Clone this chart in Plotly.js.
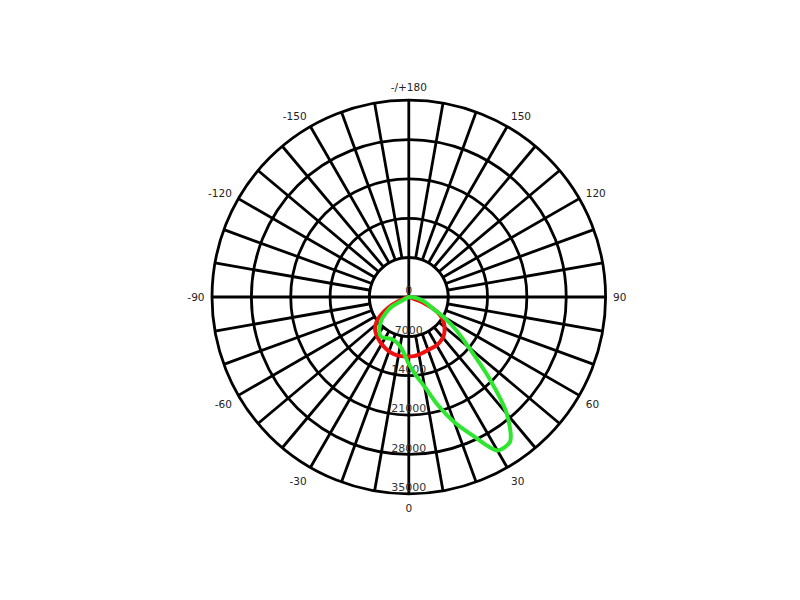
<!DOCTYPE html>
<html>
<head>
<meta charset="utf-8">
<script src="https://cdn.plot.ly/plotly-3.0.1.min.js"></script>
<style>
  html, body { margin: 0; padding: 0; background: #fff; }
  #chart { width: 800px; height: 600px; }
</style>
</head>
<body>
<div id="chart"></div>
<script>
// gamma angles (deg), 0 = straight down
const gamma = [-90, -85, -80, -75, -70, -65, -60, -55, -50, -45, -40, -35, -30, -25, -20, -15, -10, -5,
  0, 5, 10, 15, 20, 25, 30, 35, 40, 45, 50, 55, 60, 65, 70, 75, 80, 85, 90];

// C0-C180 plane (cd)
const planeC0 = [0, 0, 0, 0, 1200, 3300, 5000, 6600, 7700, 8450, 8900, 9300, 9650, 10000, 10300, 10500, 10580, 10600,
  10600, 10550, 10400, 10200, 10050, 9950, 9900, 9700, 9450, 8950, 8300, 7500, 6400, 4500, 1800, 0, 0, 0, 0];

// C90-C270 plane (cd)
const planeC90 = [0, 0, 0, 0, 0, 0, 3700, 5000, 6300, 7300, 8150, 8600, 8400, 8150, 8100, 8350, 8900, 10000,
  11900, 13900, 16200, 19900, 23700, 27300, 31500, 31400, 27100, 19900, 13900, 10300, 7200, 4500, 3500, 2600, 1700, 800, 0];

const angTickVals = [0, 10, 20, 30, 40, 50, 60, 70, 80, 90, 100, 110, 120, 130, 140, 150, 160, 170,
  180, 190, 200, 210, 220, 230, 240, 250, 260, 270, 280, 290, 300, 310, 320, 330, 340, 350];
const angTickText = ['0', '', '', '30', '', '', '60', '', '', '90', '', '', '120', '', '', '150', '', '',
  '-/+180', '', '', '-150', '', '', '-120', '', '', '-90', '', '', '-60', '', '', '-30', '', ''];

const radTickVals = [0, 7000, 14000, 21000, 28000, 35000];
const radTickText = ['0', '7000', '14000', '21000', '28000', '35000'];

const holeR = radTickVals[1];
const black = '#000';
const gridW = 2.8;

const traces = [
  // inner disc without spokes
  {
    type: 'scatterpolar', mode: 'lines',
    r: angTickVals.concat([360]).map(() => holeR),
    theta: angTickVals.concat([360]),
    fill: 'toself', fillcolor: '#fff',
    line: {color: black, width: gridW, shape: 'spline'},
    hoverinfo: 'skip'
  },
  {
    type: 'scatterpolar', mode: 'lines',
    r: [holeR, holeR], theta: [0, 180],
    line: {color: black, width: gridW}, hoverinfo: 'skip'
  },
  {
    type: 'scatterpolar', mode: 'lines',
    r: [holeR, holeR], theta: [90, 270],
    line: {color: black, width: gridW}, hoverinfo: 'skip'
  },
  // radial value labels down the 0 spoke
  {
    type: 'scatterpolar', mode: 'text',
    r: radTickVals, theta: radTickVals.map(() => 0),
    text: radTickText, textposition: 'top center',
    textfont: {family: 'DejaVu Sans, sans-serif', size: 11, color: '#333'},
    hoverinfo: 'skip'
  },
  {
    type: 'scatterpolar', mode: 'lines',
    r: planeC0, theta: gamma,
    line: {color: '#ee1111', width: 4, shape: 'spline', smoothing: 0.8},
    name: 'C0-C180'
  },
  {
    type: 'scatterpolar', mode: 'lines',
    r: planeC90, theta: gamma,
    line: {color: '#2ee62e', width: 4, shape: 'spline', smoothing: 0.8},
    name: 'C90-C270'
  }
];

const layout = {
  width: 800,
  height: 600,
  margin: {l: 0, r: 0, t: 0, b: 0},
  paper_bgcolor: '#fff',
  showlegend: false,
  font: {family: 'DejaVu Sans, sans-serif', size: 10.5, color: '#222'},
  polar: {
    domain: {x: [0.265, 0.757], y: [0.177, 0.833]},
    bgcolor: '#fff',
    angularaxis: {
      rotation: 270,
      direction: 'counterclockwise',
      tickmode: 'array',
      tickvals: angTickVals,
      ticktext: angTickText,
      ticks: 'outside',
      ticklen: 4,
      tickcolor: 'rgba(0,0,0,0)',
      showline: true,
      linecolor: black,
      linewidth: gridW,
      showgrid: true,
      gridcolor: black,
      gridwidth: gridW,
      tickfont: {size: 10.5, color: '#222'}
    },
    radialaxis: {
      range: [0, 35000],
      tickmode: 'array',
      tickvals: radTickVals,
      showticklabels: false,
      ticks: '',
      showline: false,
      showgrid: true,
      gridcolor: black,
      gridwidth: gridW
    }
  }
};

Plotly.newPlot('chart', traces, layout, {staticPlot: true});
</script>
</body>
</html>
